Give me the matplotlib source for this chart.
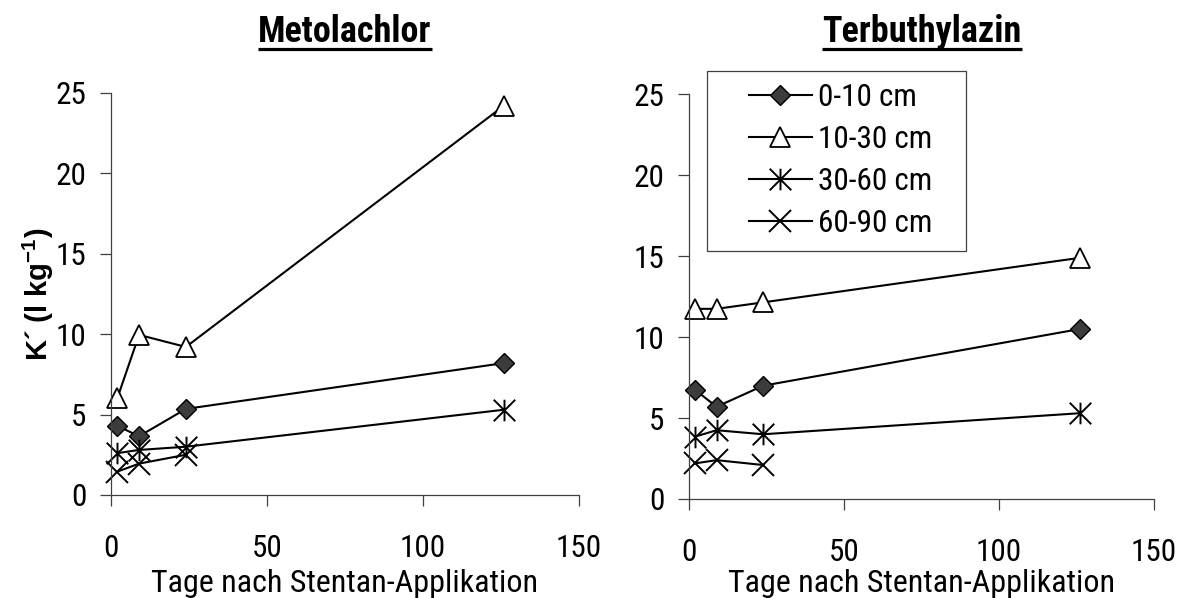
import matplotlib
matplotlib.use("Agg")
import matplotlib.pyplot as plt
from matplotlib.path import Path
from matplotlib.patches import Rectangle
from matplotlib.lines import Line2D
from matplotlib import font_manager as fm

# ---------------- data ----------------
days = [2, 9, 24, 126]
days_deep = [2, 9, 24]
depth_labels = ["0-10 cm", "10-30 cm", "30-60 cm", "60-90 cm"]
panel_titles = ["Metolachlor", "Terbuthylazin"]
xticks = [0, 50, 100, 150]
yticks = [0, 5, 10, 15, 20, 25]

meto_0_10 = [4.3, 3.65, 5.35, 8.2]
meto_10_30 = [6.0, 9.95, 9.2, 24.2]
meto_30_60 = [2.6, 2.8, 3.0, 5.3]
meto_60_90 = [1.45, 1.95, 2.5]

terb_0_10 = [6.75, 5.7, 7.0, 10.5]
terb_10_30 = [11.75, 11.75, 12.15, 14.9]
terb_30_60 = [3.85, 4.25, 4.0, 5.3]
terb_60_90 = [2.2, 2.4, 2.1]

xlabel_text = "Tage nach Stentan-Applikation"
ylabel_text = "K\u00b4 (l kg$^{\\mathbf{-1}}$)"

# ---------------- fonts ----------------
W, H, DPI = 1182, 598, 100


def is_bold(f):
    w = f.weight
    if isinstance(w, str):
        return w.lower() in ("bold", "heavy", "black", "demibold", "semibold", "extra bold")
    return w >= 600


def narrowness(f):
    s = str(f.stretch).lower()
    n = (f.name + " " + f.fname).lower()
    if "semi" in s or "semicond" in n or "semi-cond" in n or "semi cond" in n:
        return 2
    if "extra" in s or "ultra" in s or "extracond" in n or "ultracond" in n:
        return 3
    if "narrow" in n or "condensed" in n or "condensed" in s:
        return 1
    return None


fam_pref = ["liberation", "arial", "roboto", "open sans", "noto sans", "lato", "dejavu"]


def pick_narrow(bold):
    best = None
    for f in fm.fontManager.ttflist:
        if f.style != "normal" or is_bold(f) != bold:
            continue
        nr = narrowness(f)
        if nr is None:
            continue
        if "mono" in f.name.lower() or "serif" in f.name.lower() and "sans" not in f.name.lower():
            continue
        if "cjk" in f.name.lower():
            continue
        rank = len(fam_pref)
        for i, p in enumerate(fam_pref):
            if p in f.name.lower():
                rank = i
                break
        key = (nr, rank)
        if best is None or key < best[0]:
            best = (key, f.fname)
    return best[1] if best else None


reg_file = pick_narrow(False)
bold_file = pick_narrow(True)
if reg_file:
    FP_REG = dict(fname=reg_file)
    SCALE = 1.0
else:
    FP_REG = dict(family=["Liberation Sans", "DejaVu Sans"])
    SCALE = 0.85
if bold_file:
    FP_BOLD = dict(fname=bold_file)
    BSCALE = 1.0
else:
    FP_BOLD = dict(family=["Liberation Sans", "DejaVu Sans"], weight="bold")
    BSCALE = 0.85


def fprop(base, size):
    d = dict(base)
    d["size"] = size
    return fm.FontProperties(**d)


plt.rcParams["font.family"] = ["Liberation Sans", "DejaVu Sans"]
plt.rcParams["mathtext.fontset"] = "custom"
plt.rcParams["mathtext.rm"] = "Liberation Sans"
plt.rcParams["mathtext.bf"] = "Liberation Sans:bold"

TICK_FS = 22.5 * SCALE
XLAB_FS = 23 * SCALE
TITLE_FS = 26 * BSCALE

star = Path([(0, -1), (0, 1), (-1, -1), (1, 1), (-1, 1), (1, -1)],
            [Path.MOVETO, Path.LINETO] * 3)

styles = [
    dict(marker="D", ms=10.5, mfc="#3c3c3c", mec="black", mew=1.0),
    dict(marker="^", ms=14, mfc="white", mec="black", mew=1.3),
    dict(marker=star, ms=15.5, mfc="none", mec="black", mew=1.4),
    dict(marker="x", ms=15.5, mfc="none", mec="black", mew=1.4),
]
AXCOL = "#404040"


def px_rect(x0, x1, ytop, ybot):
    return [x0 / W, 1 - ybot / H, (x1 - x0) / W, (ybot - ytop) / H]


fig = plt.figure(figsize=(W / DPI, H / DPI), dpi=DPI)
ax1 = fig.add_axes(px_rect(111, 579, 92.7, 495))
ax2 = fig.add_axes(px_rect(688.7, 1154, 94.4, 499))

panels = [
    (ax1, [meto_0_10, meto_10_30, meto_30_60, meto_60_90], 345),
    (ax2, [terb_0_10, terb_10_30, terb_30_60, terb_60_90], 922),
]

title_texts = []
for (ax, series, cx), title in zip(panels, panel_titles):
    xs_list = [days, days, days, days_deep]
    for xs, ys, st, lab in zip(xs_list, series, styles, depth_labels):
        ax.plot(xs, ys, color="black", lw=1.5, label=lab, clip_on=False, **st)
    ax.set_xlim(0, 150)
    ax.set_ylim(0, 25)
    ax.set_xticks(xticks)
    ax.set_yticks(yticks)
    for s in ("top", "right"):
        ax.spines[s].set_visible(False)
    for s in ("left", "bottom"):
        ax.spines[s].set_color(AXCOL)
        ax.spines[s].set_linewidth(0.9)
    ax.tick_params(axis="both", direction="out", length=8, width=0.9, color=AXCOL)
    ax.tick_params(axis="y", pad=9.5)
    ax.tick_params(axis="x", pad=20)
    for lbl in ax.get_xticklabels() + ax.get_yticklabels():
        lbl.set_fontproperties(fprop(FP_REG, TICK_FS))
    ax.set_xlabel(xlabel_text, fontproperties=fprop(FP_REG, XLAB_FS))
    ax.xaxis.label.set_va("baseline")
    ax.xaxis.set_label_coords(cx / W, 1 - 592 / H, transform=fig.transFigure)
    t = fig.text(cx / W, 1 - 42 / H, title, ha="center", va="baseline",
                 fontproperties=fprop(FP_BOLD, TITLE_FS))
    title_texts.append(t)

ax1.set_ylabel(ylabel_text, fontsize=21, fontweight="bold",
               family=["Liberation Sans", "DejaVu Sans"])
ax1.yaxis.label.set_va("center")
ax1.yaxis.set_label_coords(38 / W, 1 - 294 / H, transform=fig.transFigure)

# legend (frame drawn separately to match the reference box)
handles, labels = ax2.get_legend_handles_labels()
ax2.legend(handles, labels, loc="upper left",
           bbox_to_anchor=(749 / W, 1 - 83 / H), bbox_transform=fig.transFigure,
           frameon=False, borderpad=0, borderaxespad=0, handlelength=2.0,
           handletextpad=0.2, labelspacing=0.42, prop=fprop(FP_REG, TICK_FS))
fig.add_artist(Rectangle((707 / W, 1 - 251 / H), (966 - 707) / W, (251 - 71) / H,
                         transform=fig.transFigure, fill=False,
                         ec=AXCOL, lw=0.9))

# underline titles
fig.canvas.draw()
r = fig.canvas.get_renderer()
for t in title_texts:
    bb = t.get_window_extent(r)
    y = 1 - 48.5 / H
    fig.add_artist(Line2D([bb.x0 / W, bb.x1 / W], [y, y], transform=fig.transFigure,
                          color="black", lw=2.3, solid_capstyle="butt"))

fig.savefig("out.png", dpi=DPI)
